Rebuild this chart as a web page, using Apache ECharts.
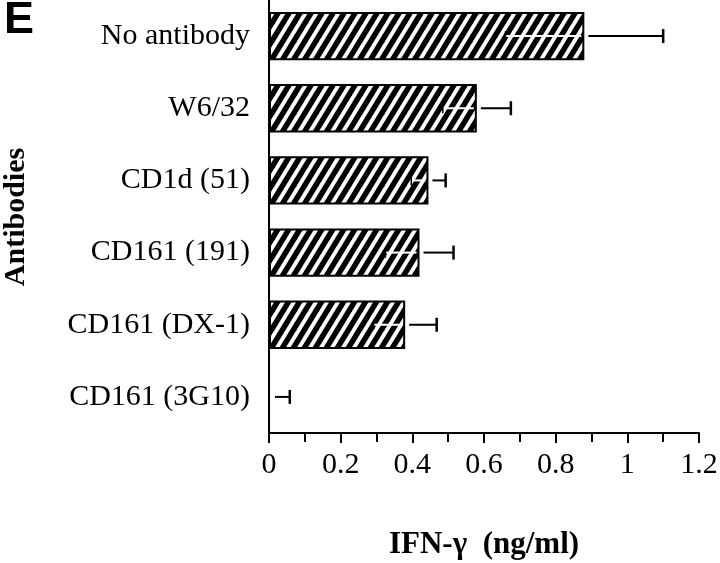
<!DOCTYPE html>
<html>
<head>
<meta charset="utf-8">
<script src="https://cdn.jsdelivr.net/npm/echarts@6/dist/echarts.min.js"></script>
<style>
    html, body { margin: 0; padding: 0; background: #fff; }
    #chart { width: 720px; height: 563px; }
</style>
</head>
<body>
<div id="chart"></div>
<script>
// 数据
var categories = ['No antibody', 'W6/32', 'CD1d (51)', 'CD161 (191)', 'CD161 (DX-1)', 'CD161 (3G10)'];
var means = [0.88, 0.58, 0.445, 0.42, 0.38, 0];
var errors = [0.22, 0.095, 0.048, 0.095, 0.088, 0.058];
var xTicks = [0, 0.2, 0.4, 0.6, 0.8, 1, 1.2];

// 斜线填充
function hatch() {
    var w = 11, h = 18;
    var c = document.createElement('canvas');
    c.width = w; c.height = h;
    var ctx = c.getContext('2d');
    ctx.fillStyle = '#fff';
    ctx.fillRect(0, 0, w, h);
    ctx.strokeStyle = '#000';
    ctx.lineWidth = 5.5;
    for (var k = -2; k <= 2; k++) {
        ctx.beginPath();
        ctx.moveTo(k * w - w, 2 * h);
        ctx.lineTo(k * w + 2 * w, -h);
        ctx.stroke();
    }
    return c;
}

var errData = [];
for (var i = 0; i < categories.length; i++) {
    errData.push([i, means[i], errors[i]]);
}

function renderErr(params, api) {
    var idx = api.value(0), m = api.value(1), e = api.value(2);
    var c = api.coord([m, idx]);
    var hi = api.coord([m + e, idx]);
    var lo = api.coord([m - e, idx]);
    var cap = 7;
    var x1 = m > 0.05 ? c[0] + 4 : c[0] + 6;
    var kids = [
        { type: 'line', shape: { x1: x1, y1: c[1], x2: hi[0], y2: hi[1] }, style: { stroke: '#000', lineWidth: 2 } },
        { type: 'line', shape: { x1: hi[0], y1: hi[1] - cap, x2: hi[0], y2: hi[1] + cap }, style: { stroke: '#000', lineWidth: 2.5 } }
    ];
    if (m > 0.05) {
        kids.push({ type: 'line', shape: { x1: lo[0], y1: lo[1], x2: c[0] - 3, y2: c[1] }, style: { stroke: '#fff', lineWidth: 2 } });
        kids.push({ type: 'line', shape: { x1: lo[0], y1: lo[1] - 5, x2: lo[0], y2: lo[1] + 5 }, style: { stroke: '#000', lineWidth: 1.5 } });
    }
    return { type: 'group', children: kids };
}

var option = {
    animation: false,
    backgroundColor: '#fff',
    grid: { left: 269, right: 21, top: 0, bottom: 130, outerBoundsMode: 'none', containLabel: false },
    graphic: [
        { type: 'text', left: 4, top: -2, style: { text: 'E', font: 'bold 45px "Liberation Sans", Arial', fill: '#000' } },
        { type: 'text', x: 1, y: 217, rotation: Math.PI / 2, style: { text: 'Antibodies', font: 'bold 30px "Liberation Serif", serif', fill: '#000', align: 'center', verticalAlign: 'top' } }
    ],
    xAxis: {
        type: 'value',
        min: 0,
        max: 1.2,
        interval: 0.2,
        name: 'IFN-\u03b3  (ng/ml)',
        nameLocation: 'middle',
        nameGap: 96,
        nameTextStyle: { fontFamily: 'Liberation Serif', fontWeight: 'bold', fontSize: 31, color: '#000' },
        axisLine: { show: true, lineStyle: { color: '#000', width: 2 } },
        axisTick: { show: true, length: 10, lineStyle: { color: '#000', width: 2 } },
        minorTick: { show: true, splitNumber: 2, length: 9, lineStyle: { color: '#000', width: 2 } },
        axisLabel: {
            margin: 17,
            fontFamily: 'Liberation Serif',
            fontSize: 30,
            color: '#000',
            formatter: function (v) { return String(Math.round(v * 10) / 10); },
            customValues: xTicks
        },
        splitLine: { show: false }
    },
    yAxis: {
        type: 'category',
        data: categories,
        inverse: true,
        axisLine: { show: true, lineStyle: { color: '#000', width: 2 } },
        axisTick: { show: false },
        axisLabel: { margin: 19, fontFamily: 'Liberation Serif', fontSize: 30, color: '#000' }
    },
    series: [
        {
            type: 'bar',
            data: means,
            barCategoryGap: '33%',
            itemStyle: {
                color: { image: hatch(), repeat: 'repeat' },
                borderColor: '#000',
                borderWidth: 2
            }
        },
        {
            type: 'custom',
            data: errData,
            renderItem: renderErr,
            encode: { x: 1, y: 0 },
            z: 5
        }
    ]
};

var chart = echarts.init(document.getElementById('chart'));
chart.setOption(option);
</script>
</body>
</html>
